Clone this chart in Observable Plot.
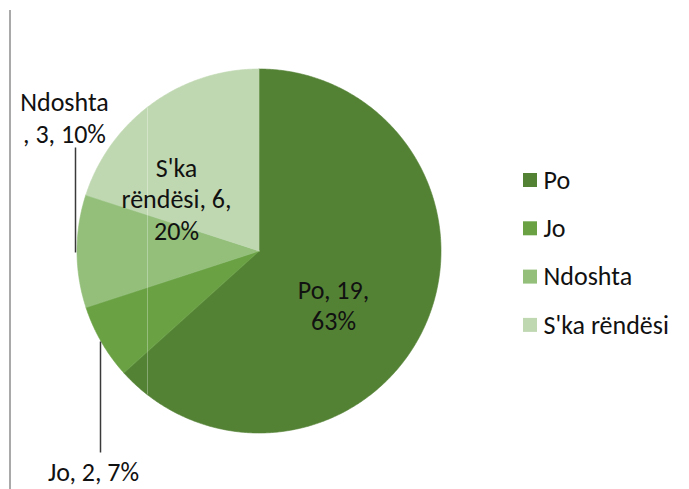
<!DOCTYPE html>
<html><head><meta charset="utf-8">
<script src="https://cdn.jsdelivr.net/npm/d3@7"></script>
<script src="https://cdn.jsdelivr.net/npm/@observablehq/plot@0.6"></script>
<style>body{margin:0;background:#fff}</style>
</head><body><div id="chart"></div>
<script>
// ---- data ----
const categories = ["Po", "Jo", "Ndoshta", "S'ka rëndësi"];
const counts = [19, 2, 3, 6];
const percents = [63, 7, 10, 20];
const colors = ["#548235", "#69A143", "#93BF7B", "#C0D8B2"];

// ---- layout ----
const W = 689, H = 489, cx = 259, cy = 251, R = 182;
const FONT = "Carlito, Calibri, Lato, sans-serif";
const FS = 26;

const total = d3.sum(counts);
let acc = 0;
const slices = categories.map((c, i) => {
  const a0 = acc / total * 2 * Math.PI;
  acc += counts[i];
  return {c, a0, a1: acc / total * 2 * Math.PI};
});
const arcPts = slices.flatMap(s => {
  const n = Math.max(2, Math.ceil((s.a1 - s.a0) / (Math.PI / 360)));
  return d3.range(n + 1).map(k => {
    const a = s.a0 + (s.a1 - s.a0) * k / n;
    return {c: s.c, x: cx + R * Math.sin(a), y: cy - R * Math.cos(a), x0: cx, y0: cy};
  });
});

// data labels (Excel wraps them this way)
const labelTexts = [
  `${categories[0]}, ${counts[0]},\n${percents[0]}%`,
  `${categories[1]}, ${counts[1]}, ${percents[1]}%`,
  `${categories[2]}\n, ${counts[2]}, ${percents[2]}%`,
  `S'ka\nrëndësi, ${counts[3]},\n${percents[3]}%`
];
const labelAnchors = [[333, 304], [93, 471], [64, 116.5], [176, 198]];
const leaders = [[75, 147, 75, 252], [100, 341, 100, 452]];
const labels = labelTexts.map((t, i) => ({t, x: labelAnchors[i][0], y: labelAnchors[i][1]}));

const artifactX = 147;
const artDy = Math.sqrt(R * R - (artifactX - cx) ** 2);

const legendTop = 180, legendGap = 48.3, legendX = 523, sq = 14;

const chart = Plot.plot({
  width: W, height: H,
  margin: 0,
  x: {domain: [0, W], range: [0, W], axis: null},
  y: {domain: [0, H], range: [0, H], axis: null},
  color: {domain: categories, range: colors},
  style: {fontFamily: FONT, background: "#fff"},
  marks: [
    Plot.ruleX([9.5], {y1: 10, y2: H, stroke: "#8c8c8c", strokeWidth: 1.5}),
    Plot.area(arcPts, {x1: "x", y1: "y", x2: "x0", y2: "y0", z: "c", fill: "c", stroke: "c", strokeWidth: 0.6}),
    Plot.ruleX([artifactX], {y1: cy - artDy, y2: cy + artDy, stroke: "#fff", strokeOpacity: 0.3, strokeWidth: 1}),
    Plot.link(leaders, {x1: d => d[0], y1: d => d[1], x2: d => d[2], y2: d => d[3], stroke: "#3a3a3a", strokeWidth: 1.5}),
    Plot.text(labels, {x: "x", y: "y", text: "t", fontSize: FS, lineHeight: 1.2, fill: "#111", textAnchor: "middle"}),
    Plot.rect(categories, {x1: legendX, x2: legendX + sq, y1: (d, i) => legendTop + i * legendGap - sq / 2, y2: (d, i) => legendTop + i * legendGap + sq / 2, fill: d => d}),
    Plot.text(categories, {x: legendX + sq + 6, y: (d, i) => legendTop + i * legendGap, text: d => d, textAnchor: "start", fontSize: FS, fill: "#111"})
  ]
});
document.getElementById("chart").appendChild(chart);
</script>
</body></html>
